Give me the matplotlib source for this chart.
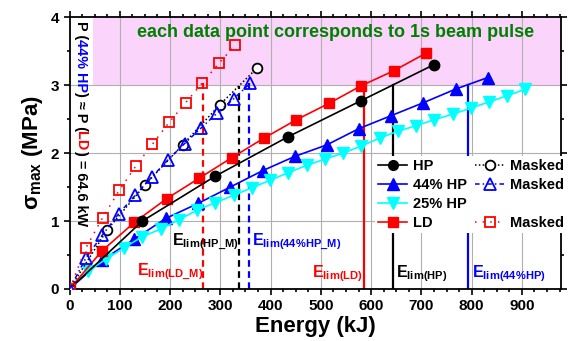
import matplotlib
matplotlib.use("Agg")
import matplotlib.pyplot as plt
from matplotlib.lines import Line2D
from matplotlib.ticker import MultipleLocator

plt.rcParams['font.family'] = ['Liberation Sans', 'DejaVu Sans']
plt.rcParams['font.weight'] = 'bold'
plt.rcParams['mathtext.fontset'] = 'custom'
plt.rcParams['mathtext.rm'] = 'Liberation Sans'
plt.rcParams['mathtext.bf'] = 'Liberation Sans:bold'

# HP
hp_e = [0, 145, 290, 435, 580, 725]
hp_s = [0, 1.00, 1.66, 2.24, 2.77, 3.30]
# 44% HP
hp44_e = [0, 64, 128, 192, 256, 320, 384, 448, 512, 576, 640, 704, 768, 832]
hp44_s = [0, 0.42, 0.73, 1.04, 1.26, 1.50, 1.74, 1.95, 2.12, 2.36, 2.55, 2.74, 2.94, 3.11]
# 25% HP
hp25_e = [0, 36, 73, 109, 145, 181, 218, 254, 290, 327, 363, 399, 435,
          472, 508, 544, 580, 617, 653, 689, 725, 762, 798, 834, 870, 907]
hp25_s = [0, 0.26, 0.44, 0.61, 0.77, 0.88, 1.02, 1.16, 1.27, 1.38, 1.49, 1.60, 1.71,
          1.82, 1.91, 2.00, 2.10, 2.22, 2.32, 2.40, 2.49, 2.57, 2.66, 2.75, 2.84, 2.94]
# LD
ld_e = [0, 64.5, 129, 193.5, 258, 322.5, 387, 451.5, 516, 580.5, 645, 709.5]
ld_s = [0, 0.56, 0.98, 1.33, 1.63, 1.93, 2.22, 2.49, 2.73, 2.99, 3.21, 3.47]

# masked
hpm_e = [0, 75, 150, 225, 299, 373]
hpm_s = [0, 0.87, 1.53, 2.12, 2.71, 3.25]
hp44m_e = [0, 33, 65, 98, 131, 164, 196, 229, 262, 294, 327, 360]
hp44m_s = [0, 0.46, 0.79, 1.11, 1.38, 1.65, 1.90, 2.14, 2.37, 2.59, 2.80, 3.03]
ldm_e = [0, 33, 66, 99, 132, 165, 198, 231, 264, 297, 330]
ldm_s = [0, 0.61, 1.05, 1.45, 1.81, 2.13, 2.45, 2.74, 3.03, 3.32, 3.59]

# energy limits
lim_names = ['LD_M', 'HP_M', '44%HP_M', 'LD', 'HP', '44%HP']
lim_e = [265, 337, 357, 585, 643, 793]
lim_s = [3.03, 2.98, 3.03, 3.0, 3.0, 3.0]

RED = '#ff0000'
BLUE = '#0000ff'
CYAN = '#00ffff'

fig = plt.figure(figsize=(5.68, 3.41), dpi=100)
ax = fig.add_axes([0.1224, 0.1525, 0.8646, 0.7975])

ax.set_xlim(0, 977)
ax.set_ylim(0, 4)
ax.axhspan(3, 4, xmin=0.048, color='#fad4fa', zorder=0, lw=0)
for x in range(100, 1000, 100):
    ax.axvline(x, color='#b0b0b0', lw=0.8, zorder=0.5)
for y in [1, 2, 3]:
    ax.axhline(y, color='#b0b0b0', lw=0.8, zorder=0.5)

lw = 1.2
ax.plot(hp_e, hp_s, '-', color='k', lw=lw, marker='o', ms=7.5, zorder=4)
ax.plot(hp44_e, hp44_s, '-', color=BLUE, lw=lw, marker='^', ms=8, zorder=3)
ax.plot(hp25_e, hp25_s, '-', color=CYAN, lw=lw, marker='v', ms=8, zorder=3)
ax.plot(ld_e, ld_s, '-', color=RED, lw=lw, marker='s', ms=6.5, zorder=3)

ax.plot(hpm_e, hpm_s, color='k', lw=1.1, ls=(0, (1, 1.5)), marker='o', ms=7,
        mfc='white', mew=1.3, zorder=4)
ax.plot(hp44m_e, hp44m_s, color=BLUE, lw=1.1, ls=(0, (3, 2, 1, 2)), marker='^', ms=8,
        mfc='none', mew=1.3, zorder=4)
ax.plot(ldm_e, ldm_s, color=RED, lw=1.1, ls=(0, (1, 4)), marker='s', ms=6.5,
        mfc='none', mew=1.3, zorder=4)

lim_colors = [RED, 'k', BLUE, RED, 'k', BLUE]
lim_dash = [True, True, True, False, False, False]
for e, s, c, d in zip(lim_e, lim_s, lim_colors, lim_dash):
    ax.plot([e, e], [0, s], color=c, lw=1.6, ls=(0, (3, 2)) if d else '-', zorder=2)

lab_pos = [(134, 0.25), (203, 0.70), (364, 0.70), (482, 0.22), (649, 0.22), (801, 0.22)]
for name, (x, y), c in zip(lim_names, lab_pos, lim_colors):
    nm = name.replace('_', r'\_').replace('%', r'\%')
    ax.text(x, y, r'$\mathbf{E_{lim(' + nm + r')}}$', color=c, fontsize=11.5,
            ha='left', va='center', zorder=6)

ax.text(529, 3.78, 'each data point corresponds to 1s beam pulse', color='#008000',
        fontsize=13, fontweight='bold', ha='center', va='center')

# axis styling
ax.xaxis.set_major_locator(MultipleLocator(100))
ax.xaxis.set_minor_locator(MultipleLocator(25))
ax.yaxis.set_major_locator(MultipleLocator(1))
ax.yaxis.set_minor_locator(MultipleLocator(0.5))
ax.tick_params(which='both', top=True, right=True, width=1.2)
ax.tick_params(which='major', length=4, labelsize=11)
ax.tick_params(which='minor', length=2.5)
ax.tick_params(axis='x', which='both', direction='out')
ax.tick_params(axis='x', which='both', top=True, labeltop=False)
for sp in ax.spines.values():
    sp.set_linewidth(1.3)
for lab in ax.get_xticklabels() + ax.get_yticklabels():
    lab.set_fontweight('bold')
ax.set_xticks([0, 100, 200, 300, 400, 500, 600, 700, 800, 900])
ax.set_xlabel('Energy (kJ)', fontsize=16, fontweight='bold', labelpad=2)
ax.set_ylabel('σ$_{\\mathbf{max}}$ (MPa)', fontsize=16, fontweight='bold', labelpad=4)

handles = [
    Line2D([], [], color='k', lw=lw, marker='o', ms=7),
    Line2D([], [], color=BLUE, lw=lw, marker='^', ms=8),
    Line2D([], [], color=CYAN, lw=lw, marker='v', ms=8),
    Line2D([], [], color=RED, lw=lw, marker='s', ms=6.5),
    Line2D([], [], color='k', lw=1.1, ls=(0, (1, 1.5)), marker='o', ms=7, mfc='white', mew=1.3),
    Line2D([], [], color=BLUE, lw=1.1, ls=(0, (3, 2, 1, 2)), marker='^', ms=8, mfc='none', mew=1.3),
    Line2D([], [], ls='none', marker='none'),
    Line2D([], [], color=RED, lw=1.1, ls=(0, (1, 4)), marker='s', ms=6.5, mfc='none', mew=1.3),
]
labels = ['HP', '44% HP', '25% HP', 'LD', 'Masked', 'Masked', ' ', 'Masked']
leg = ax.legend(handles, labels, ncol=2, loc='upper left', bbox_to_anchor=(0.608, 0.515),
                frameon=True, framealpha=1, facecolor='white', edgecolor='none',
                prop={'weight': 'bold', 'size': 10.5}, handlelength=2.0, handletextpad=0.35,
                columnspacing=0.6, labelspacing=0.35, borderpad=0.2, fancybox=False)
leg.set_zorder(5)

# rotated multi-colour note at the left
pieces = [('P (', 'k'), ('44% HP', BLUE), (') ≈ P (', 'k'), ('LD', RED), (') = 64.6 kW', 'k')]
fig.canvas.draw()
r = fig.canvas.get_renderer()
ypos = 0.985
inv = ax.transAxes.inverted()
for s, c in pieces:
    t = ax.text(0.023, ypos, s, transform=ax.transAxes, rotation=-90, ha='center', va='top',
                color=c, fontsize=10.4, fontweight='bold', zorder=6)
    bb = t.get_window_extent(r)
    ypos = inv.transform((0, bb.y0))[1]

fig.savefig('out.png', dpi=100)
